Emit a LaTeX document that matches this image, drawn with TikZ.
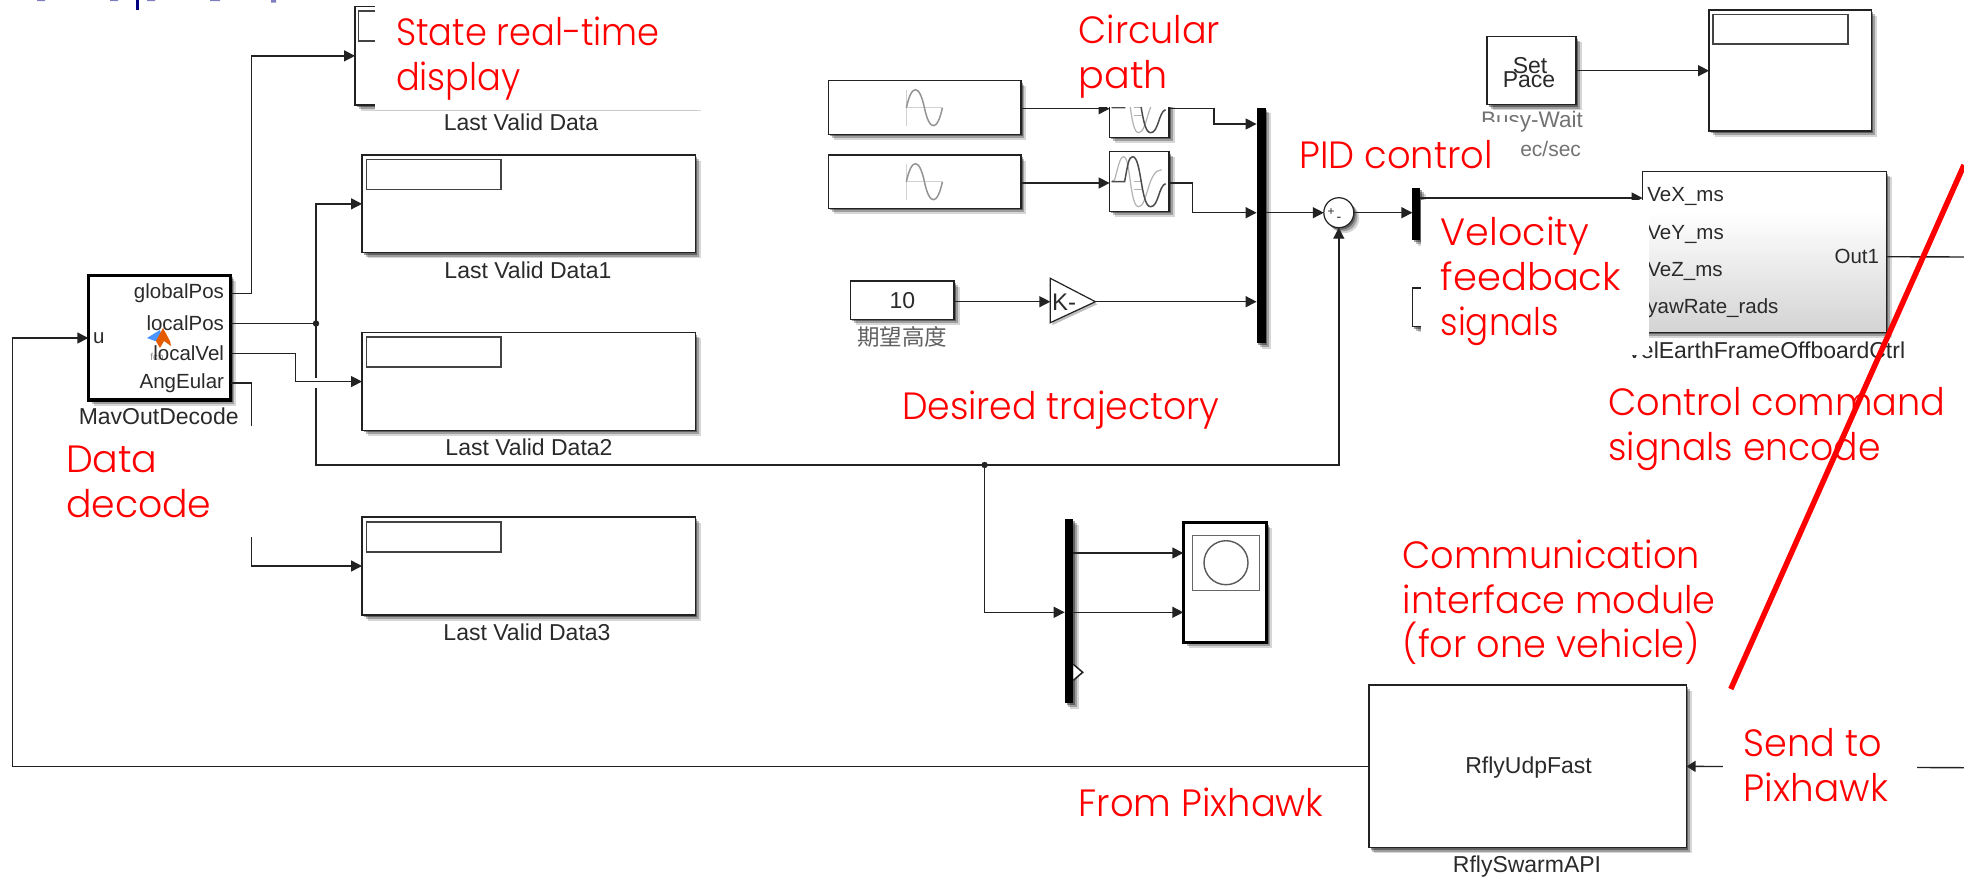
\documentclass[tikz,border=0pt]{standalone}
\usepackage{graphicx}
\usepackage{fontspec}
\setmainfont{Liberation Sans}
\newfontfamily\redfont[FakeStretch=0.9]{Poppins Light}
\newfontfamily\cjkfont{Noto Sans CJK SC}
\usetikzlibrary{arrows.meta,shadows,calc}
\definecolor{ink}{HTML}{222222}
\definecolor{txt}{HTML}{2A2A2A}
\newcommand{\rs}[2]{\scalebox{#1}[1]{#2}}
\tikzset{
  shd/.style={
    general shadow={shadow xshift=5.5pt,shadow yshift=-5.5pt,opacity=.16,fill=black},
    general shadow={shadow xshift=3.6pt,shadow yshift=-3.8pt,opacity=.26,fill=black},
    general shadow={shadow xshift=1.8pt,shadow yshift=-2pt,opacity=.38,fill=black}},
  blockbox/.style={draw=ink,line width=1.5pt,fill=white,inner sep=0pt,outer sep=0pt,anchor=north west,shd},
  thickbox/.style={blockbox,draw=black,line width=3.2pt},
  titlebox/.style={draw=ink!85,line width=1.3pt,fill=white,inner sep=0pt,outer sep=0pt,anchor=north west},
  muxbar/.style={fill=black,draw=none,inner sep=0pt,outer sep=0pt,anchor=north west,shd},
  sig/.style={draw=ink,line width=1.4pt,-{Triangle[length=11pt,width=11pt]}},
  plainsig/.style={draw=ink,line width=1.4pt},
  lbl/.style={font=\fontsize{23}{26}\selectfont,text=txt,inner sep=0pt,outer sep=0pt},
  portl/.style={font=\fontsize{20.5}{24}\selectfont,text=txt,inner sep=0pt,outer sep=0pt},
  redt/.style={font=\redfont\fontsize{38}{45}\selectfont,text=red,inner sep=0pt,outer sep=0pt,anchor=base west},
  cover/.style={fill=white,draw=none},
  waveg/.style={draw=black!30,line width=1.2pt},
  wavek/.style={draw=black!70,line width=1.5pt},
}
\newcommand{\sineicon}[2]{%
  \draw[black!18,line width=1pt] (#1,#2) -- ++(36,0);
  \draw[black!18,line width=1pt] (#1,#2-18) -- ++(0,36);
  \draw[black!42,line width=1.5pt] (#1,#2) .. controls (#1+5,#2-24) and (#1+13,#2-24) .. (#1+18,#2) .. controls (#1+23,#2+24) and (#1+31,#2+24) .. (#1+36,#2);
}
\newcommand{\delayicon}[2]{%
  \draw[waveg] (#1+2,#2+30) -- (#1+5,#2+28) .. controls (#1+8,#2+18) and (#1+10,#2+5) .. (#1+14,#2+5) .. controls (#1+21,#2+5) and (#1+20,#2+55) .. (#1+29,#2+55) .. controls (#1+38,#2+55) and (#1+38,#2+18) .. (#1+52,#2+18);
  \draw[waveg,line width=1pt] (#1+24,#2+30) -- ++(8,0) (#1+24,#2+38) -- ++(8,0);
  \draw[wavek] (#1+2,#2+30) -- (#1+15,#2+30) .. controls (#1+18,#2+14) and (#1+19,#2+5) .. (#1+23,#2+5) .. controls (#1+32,#2+5) and (#1+31,#2+55) .. (#1+41,#2+55) .. controls (#1+49,#2+55) and (#1+49,#2+34) .. (#1+56,#2+32);
}
\begin{document}
\begin{tikzpicture}[x=1pt,y=-1pt]
\useasboundingbox (0,0) rectangle (1964,876);
\fill[white] (0,0) rectangle (1964,876);

% cut-off heading at the top edge
\fill[blue!50!black] (136,0) rectangle (139,10);
\fill[blue!50!black,opacity=.5] (37,0) rectangle (45,1) (110,0) rectangle (118,1) (147,0) rectangle (155,1) (210,0) rectangle (220,1) (271,0) rectangle (276,2.5);

% scopes left column
\node[blockbox,minimum width=340pt,minimum height=98.3pt] (s0) at (355,6.7) {};
\node[titlebox,minimum width=134pt,minimum height=30pt] (t0) at (358.5,11) {};
\node[blockbox,minimum width=333.5pt,minimum height=97.7pt] (s1) at (362,155) {};
\node[titlebox,minimum width=134.5pt,minimum height=30pt] (t1) at (366.5,159.5) {};
\node[blockbox,minimum width=333.5pt,minimum height=97.7pt] (s2) at (362,332.7) {};
\node[titlebox,minimum width=134.5pt,minimum height=30pt] (t2) at (366.5,337) {};
\node[blockbox,minimum width=333.5pt,minimum height=98pt] (s3) at (362,517) {};
\node[titlebox,minimum width=134.5pt,minimum height=30pt] (t3) at (366.5,522) {};
\node[lbl] (l0) at (521,122) {Last Valid Data};
\node[lbl] (l1) at (528,270) {Last Valid Data1};
\node[lbl] (l2) at (529,447.7) {Last Valid Data2};
\node[lbl] (l3) at (527,632.6) {Last Valid Data3};

% MavOutDecode
\node[thickbox,minimum width=142.4pt,minimum height=124.7pt] (mav) at (88.3,275.3) {};
\node[portl,anchor=east] (gp) at (224,293.5) {globalPos};
\node[portl,anchor=east] (lp) at (224,323.5) {localPos};
\node[font=\fontsize{10}{12}\selectfont,text=black!45,inner sep=0pt] (fcn) at (157,356.5) {fcn};
\fill[blue!60!cyan!70!white] (147,338) -- (160,330) -- (163,340) -- (155,341) -- cycle;
\fill[orange!80!red!90!black] (156,341) -- (163,328) -- (170,341) -- (171,346) -- (164,341) -- (160,348) -- cycle;
\node[portl,anchor=east] (lv) at (224,353.5) {localVel};
\node[portl,anchor=east] (ae) at (224,383) {AngEular};
\node[portl,anchor=west] (up) at (93,338) {u};
\node[lbl] (mavl) at (158.7,416.7) {MavOutDecode};

% signal sources
\node[blockbox,minimum width=192.5pt,minimum height=53.6pt] (sin1) at (828.3,80.7) {};
\node[blockbox,minimum width=192.5pt,minimum height=53.3pt] (sin2) at (828.3,155) {};
\sineicon{906.4}{107.7}
\sineicon{906.4}{181.7}
\node[blockbox,minimum width=59.4pt,minimum height=59.6pt] (d1) at (1109.6,77.7) {};
\node[blockbox,minimum width=59.4pt,minimum height=59.6pt] (d2) at (1109.6,151.7) {};
\delayicon{1109.6}{77.7}
\delayicon{1109.6}{151.7}
\node[blockbox,minimum width=103.7pt,minimum height=38.3pt,font=\fontsize{23}{26}\selectfont,text=txt] (k10) at (850.5,281) {10};
\node[font=\cjkfont\fontsize{22.5}{26}\selectfont,text=black!62,inner sep=0pt] (k10l) at (902,336.7) {期望高度};
\draw[ink,line width=1.2pt,fill=white,general shadow={shadow xshift=2pt,shadow yshift=-2.5pt,opacity=.25,fill=black}] (1050.3,278.3) -- (1095.4,301.7) -- (1050.3,322.7) -- cycle;
\coordinate (gainin) at (1050.3,301.7);
\coordinate (gainout) at (1095.4,301.7);
\node[font=\fontsize{24}{26}\selectfont,text=txt,inner sep=0pt,anchor=west] (gaint) at (1052,302) {K-};

\node[muxbar,minimum width=9pt,minimum height=235.5pt] (m1) at (1256.6,107.8) {};
\node[blockbox,circle,anchor=center,minimum size=30pt,line width=1.2pt] (sum) at (1338.8,212.7) {};
\node[inner sep=0pt,font=\fontsize{12}{12}\selectfont,text=txt] (plus) at (1331,212) {+};
\node[inner sep=0pt,font=\fontsize{14}{14}\selectfont,text=txt] (minus) at (1339,219.5) {-};
\node[muxbar,minimum width=7.6pt,minimum height=52pt] (m2) at (1412.4,188) {};
\node[blockbox,minimum width=30pt,minimum height=38.7pt,line width=1.2pt] (fb) at (1412.4,288) {};

% Set Pace and scope
\node[blockbox,minimum width=89pt,minimum height=68pt] (pace) at (1487,36.7) {};
\node[lbl] (pa) at (1530,65.7) {Set};
\node[lbl] (pb) at (1529,79.3) {Pace};
\node[lbl,text=black!55,font=\fontsize{22.5}{24}\selectfont] (pacel1) at (1532,121.7) {Busy-Wait};
\node[lbl,text=black!55,font=\fontsize{21}{24}\selectfont,anchor=east] (pacel2) at (1581,149.3) {1 sec/sec};
\node[blockbox,minimum width=162.6pt,minimum height=121pt] (s4) at (1709,10) {};
\node[titlebox,minimum width=135pt,minimum height=29.7pt] (t4) at (1713,14.3) {};

% velocity command block
\node[blockbox,minimum width=243.9pt,minimum height=160.6pt] (vel) at (1642.6,171.7) {};
\shade[top color=white,bottom color=black!17] ($(vel.south west)+(.8,-.8)$) rectangle ($(vel.north east)+(-.8,40)$);
\node[lbl] (vell) at (1766,350) {VelEarthFrameOffboardCtrl};
\node[portl,anchor=east] (o1) at (1879,256.7) {Out1};
\node[portl,anchor=west] (vy) at (1647.4,234.3) {VeY\_ms};
\node[portl,anchor=west] (vz) at (1647.4,271) {VeZ\_ms};
\node[portl,anchor=west] (yw) at (1647.4,308.3) {yawRate\_rads};

% lower mux and XY scope
\node[muxbar,minimum width=8.6pt,minimum height=184.3pt] (m3) at (1064.7,519) {};
\draw[ink,line width=1.5pt,fill=white] (1073.3,664.3) -- (1082.7,672.3) -- (1073.3,680.3);
\node[thickbox,minimum width=83.4pt,minimum height=119.6pt] (xy) at (1183.3,522.7) {};
\node[titlebox,draw=black!60,line width=1.5pt,minimum width=67pt,minimum height=55pt] (xys) at (1192.3,535.3) {};
\node[draw=black!65,line width=1.4pt,circle,minimum size=44pt,inner sep=0pt] (xyc) at (1226,562.7) {};

% communication block
\node[blockbox,line width=1.4pt,minimum width=317.7pt,minimum height=162.7pt] (api) at (1368.8,685) {};
\node[lbl] (apit) at (1528.6,767.7) {RflyUdpFast};
\node[lbl] (apil) at (1527,866.7) {RflySwarmAPI};

% connectors
\coordinate (outr) at (1964,767.7);
\coordinate (velr) at (1964,257);
\coordinate (fbturn) at (12.5,338);
\coordinate (jn) at (316,323.5);
\coordinate (jnb) at (984.6,465);
\draw[sig] (api.west) -- (api.west -| fbturn) -- (fbturn) -- (mav.west |- up);
\draw[sig] (mav.east |- gp) -- ++(21,0) |- (s0.west);
\draw[plainsig] (mav.east |- lp) -- (jn);
\draw[sig] (jn) |- (s1.west);
\draw[sig] (jn) -- (316,465) -- (jnb) -- (1338.8,465) -- (sum.south);
\fill[ink] (jn) circle (3.2pt) (jnb) circle (3.2pt);
\draw[white,line width=2pt] (316,378) -- (316,388);
\draw[sig] (mav.east |- lv) -- ++(65,0) |- (s2.west);
\draw[sig] (mav.east |- ae) -- ++(21,0) |- (s3.west);
\draw[sig] (jnb) |- (m3.west |- 0,612.3);
\draw[sig] (m3.east |- 0,553) -- (xy.west |- 0,553);
\draw[sig] (m3.east |- 0,612.3) -- (xy.west |- 0,612.3);
\draw[sig] (sin1.east |- 0,108.7) -- (d1.west |- 0,108.7);
\draw[sig] (sin2.east |- 0,183) -- (d2.west |- 0,183);
\draw[sig] (d1.east |- 0,108.7) -- ++(45,0) |- (m1.west |- 0,124);
\draw[sig] (d2.east |- 0,183) -- ++(23.6,0) |- (m1.west |- sum);
\draw[sig] (k10.east |- gainin) -- (gainin);
\draw[sig] (gainout) -- (m1.west |- gainout);
\draw[sig] (m1.east |- sum) -- (sum.west);
\draw[sig] (sum.east) -- (m2.west |- sum);
\draw[sig] (pace.east) -- (s4.west |- pace);
\draw[plainsig] (o1.east -| vel.east) -- (velr);
\draw[sig,-{Triangle[length=9pt,width=11pt]}] (outr) -- (api.east);
\draw[sig] (m2.east |- 0,198) -- (vel.west |- 0,198);

% white patches behind annotations
\fill[cover] (375,0) rectangle (702,110);
\draw[black!22,line width=1pt] (375,110) -- (697,110);
\fill[cover] (1075,0) rectangle (1272,107.3);
\fill[cover] (1295,122) rectangle (1520.5,186);
\fill[cover] (1420.5,199.5) rectangle (1649,355);
\fill[cover] (30,426) rectangle (300,536.5);
\fill[cover] (1722.8,740) rectangle (1917,815);
\node[portl,anchor=west] (vx) at (1647.4,196.7) {VeX\_ms};

% red annotations
\node[redt] (a1) at (396,45) {\rs{1.03}{State real-time}};
\node[redt] (a2) at (396,90) {\rs{1.03}{display}};
\node[redt] (a3) at (1078.6,43.3) {\rs{1.067}{Circular}};
\node[redt] (a4) at (1078.6,88) {\rs{1.115}{path}};
\node[redt] (a5) at (1299.4,168) {\rs{1.077}{PID control}};
\node[redt] (a6) at (1440.7,245) {\rs{1.114}{Velocity}};
\node[redt] (a7) at (1440.7,290) {\rs{1.125}{feedback}};
\node[redt] (a8) at (1440.7,335) {signals};
\node[redt] (a9) at (902,419.6) {\rs{1.059}{Desired trajectory}};
\node[redt] (a10) at (1608.3,415) {\rs{1.072}{Control command}};
\node[redt] (a11) at (1608.3,460) {\rs{1.056}{signals encode}};
\node[redt] (a12) at (66,472.7) {\rs{1.11}{Data}};
\node[redt] (a13) at (66,517) {\rs{1.105}{decode}};
\node[redt] (a14) at (1402.6,568.3) {\rs{1.073}{Communication}};
\node[redt] (a15) at (1402.6,613.3) {\rs{1.072}{interface module}};
\node[redt] (a16) at (1402.6,657.5) {\rs{1.073}{(for one vehicle)}};
\node[redt] (a17) at (1743.7,756.7) {\rs{1.07}{Send to}};
\node[redt] (a18) at (1743.7,801.7) {\rs{1.094}{Pixhawk}};
\node[redt] (a19) at (1078.7,816.7) {\rs{1.077}{From Pixhawk}};
\coordinate (cross1) at (1730.8,689);
\coordinate (cross2) at (1964,165);
\draw[red,line width=5.5pt] (cross1) -- (cross2);
\end{tikzpicture}
\end{document}
